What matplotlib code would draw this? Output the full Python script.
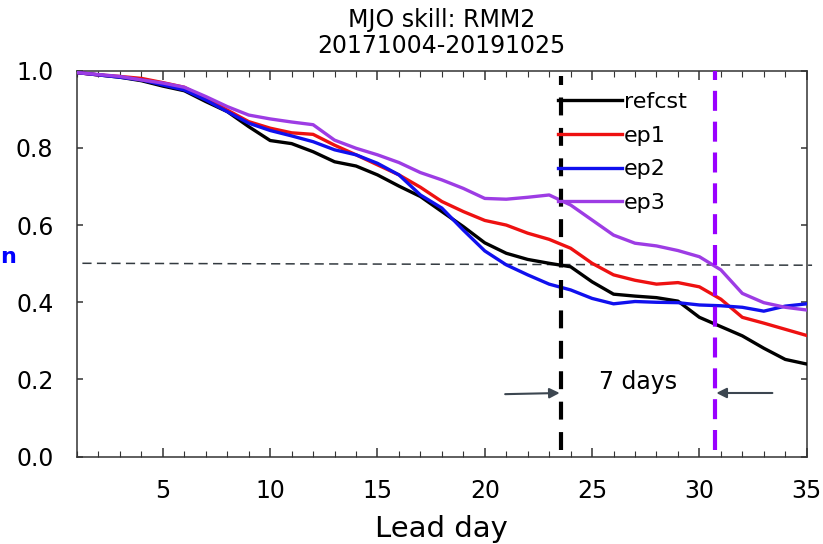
import numpy as np
import matplotlib
matplotlib.use("Agg")
import matplotlib.pyplot as plt
from matplotlib.ticker import MultipleLocator

# ---------- data ----------------------------------------------------------
lead = np.arange(1, 36)
refcst = [0.995, 0.989, 0.983, 0.974, 0.960, 0.948, 0.920, 0.894, 0.855, 0.819,
          0.811, 0.790, 0.764, 0.753, 0.730, 0.701, 0.674, 0.635, 0.596, 0.554,
          0.527, 0.511, 0.501, 0.492, 0.453, 0.421, 0.416, 0.412, 0.403, 0.361,
          0.337, 0.313, 0.281, 0.252, 0.240]
ep1 = [0.995, 0.989, 0.985, 0.980, 0.969, 0.957, 0.928, 0.898, 0.868, 0.851,
       0.839, 0.835, 0.807, 0.782, 0.756, 0.730, 0.698, 0.661, 0.635, 0.612,
       0.600, 0.579, 0.563, 0.540, 0.501, 0.471, 0.457, 0.447, 0.451, 0.440,
       0.408, 0.361, 0.346, 0.330, 0.314]
ep2 = [0.995, 0.989, 0.983, 0.976, 0.963, 0.950, 0.924, 0.894, 0.864, 0.845,
       0.831, 0.816, 0.795, 0.782, 0.760, 0.730, 0.678, 0.644, 0.587, 0.533,
       0.497, 0.471, 0.447, 0.432, 0.410, 0.396, 0.402, 0.400, 0.399, 0.393,
       0.391, 0.387, 0.377, 0.390, 0.396]
ep3 = [0.995, 0.990, 0.985, 0.976, 0.968, 0.957, 0.933, 0.907, 0.885, 0.875,
       0.867, 0.860, 0.820, 0.799, 0.782, 0.762, 0.736, 0.717, 0.695, 0.669,
       0.667, 0.672, 0.678, 0.652, 0.613, 0.574, 0.553, 0.546, 0.534, 0.518,
       0.484, 0.423, 0.399, 0.387, 0.380]

series = {"refcst": refcst, "ep1": ep1, "ep2": ep2, "ep3": ep3}
colors = {"refcst": "black", "ep1": "#ee1111", "ep2": "#1010ee", "ep3": "#9d3ce4"}

THRESH = 0.5
cross_ref = 23.54   # lead day where refcst drops below 0.5
cross_ep3 = 30.74   # lead day where ep3 drops below 0.5

# ---------- plot ----------------------------------------------------------
plt.rcParams.update({"font.family": "DejaVu Sans"})
fig = plt.figure(figsize=(8.23, 5.44), dpi=100)
ax = fig.add_axes([0.0936, 0.1605, 0.8866, 0.7096])

for name, vals in series.items():
    ax.plot(lead, vals, color=colors[name], lw=2.4, label=name,
            solid_joinstyle="round", zorder=3)

# skill threshold
ax.plot([1.25, 35.25], [THRESH + 0.001, THRESH - 0.004], color="#333a40",
        lw=1.1, ls=(0, (6, 3.5)), clip_on=False, zorder=2)

# crossing days
ax.vlines(cross_ref, 0.017, 0.985, color="black", lw=3.0,
          linestyles=(0, (4.3, 3.0)), zorder=4)
ax.vlines(cross_ep3, 0.017, 1.0, color="#9900ff", lw=3.0,
          linestyles=(0, (4.8, 2.6)), zorder=4)

arrow = dict(arrowstyle="-|>", color="#3c4650", lw=1.5, mutation_scale=15,
             shrinkA=0, shrinkB=0)
ax.annotate("", xy=(cross_ref - 0.05, 0.165), xytext=(20.95, 0.162),
            arrowprops=arrow)
ax.annotate("", xy=(cross_ep3 + 0.05, 0.165), xytext=(33.4, 0.165),
            arrowprops=arrow)
ax.text(27.16, 0.194, "7 days", ha="center", va="center", fontsize=17)

ax.set_xlim(1, 35)
ax.set_ylim(0, 1.0)
ax.xaxis.set_major_locator(MultipleLocator(5))
ax.xaxis.set_minor_locator(MultipleLocator(1))
ax.yaxis.set_major_locator(MultipleLocator(0.2))
ax.yaxis.set_major_formatter(plt.FuncFormatter(lambda v, p: f"{v:.1f}"))
ax.tick_params(which="both", direction="in", top=True, right=True,
               color="#333333", labelsize=17)
ax.tick_params(axis="x", which="major", length=6.5, width=1.1, pad=16)
ax.tick_params(axis="x", which="minor", length=4.5, width=0.8)
ax.tick_params(axis="y", which="major", length=4.5, width=1.1, pad=17)
for s in ax.spines.values():
    s.set_color("#333333")
    s.set_linewidth(1.1)

ax.set_xlabel("Lead day", fontsize=21, labelpad=9)
ax.set_title("MJO skill: RMM2\n20171004-20191025", fontsize=17,
             linespacing=1.08, pad=13)

ax.legend(loc="upper left", bbox_to_anchor=(0.659, 0.945), frameon=False,
          fontsize=16, handlelength=2.9, handletextpad=0.08,
          labelspacing=0.62, borderaxespad=0, borderpad=0)

fig.text(0.0, 0.516, "n", color="blue", fontsize=16, fontweight="bold",
         ha="left", va="baseline")

fig.savefig("out.png", dpi=100)
